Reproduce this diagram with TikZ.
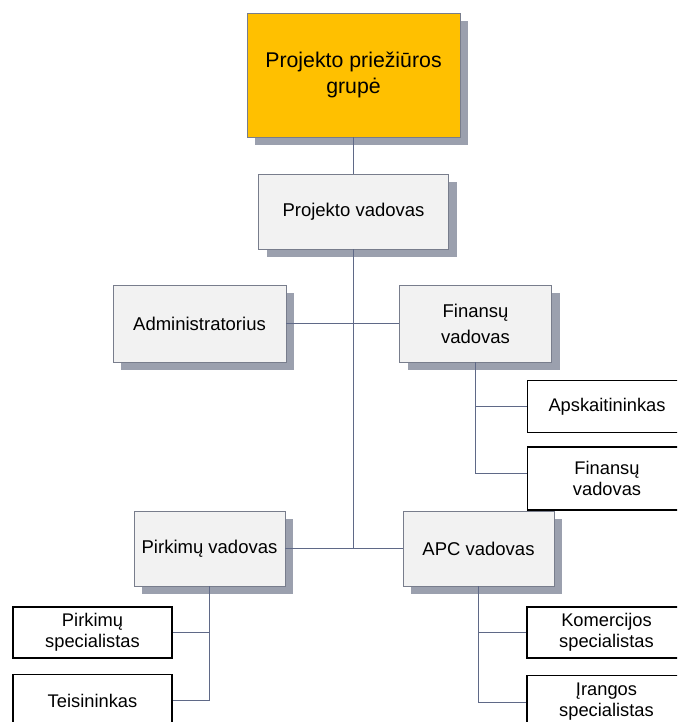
\documentclass[tikz,border=0pt]{standalone}
\usepackage{fontspec}
\setmainfont{Liberation Sans}
\usetikzlibrary{shadows}
\definecolor{orangec}{RGB}{255,192,0}
\definecolor{boxfill}{RGB}{242,242,242}
\definecolor{boxline}{RGB}{120,125,140}
\definecolor{shadowc}{RGB}{155,160,174}
\definecolor{linec}{RGB}{95,105,135}
\begin{document}
\begin{tikzpicture}[x=1pt,y=-1pt,
 mainbox/.style={draw=boxline, line width=0.9pt, fill=boxfill, align=center, inner sep=0pt,
   font=\fontsize{18.5}{26}\selectfont,
   drop shadow={shadow xshift=8pt, shadow yshift=-8pt, fill=shadowc, opacity=1}},
 topbox/.style={mainbox, fill=orangec, font=\fontsize{21.3}{26}\selectfont},
 childbox/.style={draw=black, line width=1.6pt, fill=white, align=center, inner sep=0pt,
   font=\fontsize{18.3}{21}\selectfont},
 conn/.style={draw=linec, line width=1pt}]
\useasboundingbox (0,0) rectangle (677,722);
\clip (0,0) rectangle (677,722);

\node[topbox, minimum width=213pt, minimum height=124pt] (top) at (353.5,75) {Projekto priežiūros\\grupė};
\node[mainbox, minimum width=190pt, minimum height=75pt] (pv) at (353.5,211.5) {Projekto vadovas};
\node[mainbox, minimum width=173pt, minimum height=77pt] (adm) at (199.5,323.5) {Administratorius};
\node[mainbox, minimum width=152pt, minimum height=77pt] (fin) at (475.5,323.5) {Finansų\\vadovas};
\node[childbox, minimum width=159pt, minimum height=52pt] (apsk) at (607,406.5) {Apskaitininkas};
\node[childbox, minimum width=159pt, minimum height=63pt] (fin2) at (607,478.5) {Finansų\\vadovas};
\node[mainbox, minimum width=151pt, minimum height=75pt] (pirk) at (209.5,548.5) {Pirkimų vadovas};
\node[mainbox, minimum width=151pt, minimum height=75pt] (apc) at (478.5,548.5) {APC vadovas};
\node[childbox, minimum width=159pt, minimum height=51pt] (ps) at (92.5,632.5) {Pirkimų\\specialistas};
\node[childbox, minimum width=159pt, minimum height=52pt] (teis) at (92.5,700.5) {Teisininkas};
\node[childbox, minimum width=159pt, minimum height=51pt] (kom) at (606.5,632.5) {Komercijos\\specialistas};
\node[childbox, minimum width=159pt, minimum height=52pt] (ir) at (606.5,701.5) {Įrangos\\specialistas};

\coordinate (jmain) at (pv.south |- pirk.east);
\draw[conn] (top.south) -- (pv.north);
\draw[conn] (pv.south) -- (jmain);
\draw[conn] (adm.east) -- (fin.west);
\draw[conn] (pirk.east) -- (apc.west);
\draw[conn] (fin.south) |- (apsk.west);
\draw[conn] (fin.south) |- ([yshift=5pt]fin2.west);
\draw[conn] (pirk.south) |- (ps.east);
\draw[conn] (pirk.south) |- (teis.east);
\draw[conn] (apc.south) |- (kom.west);
\draw[conn] (apc.south) |- ([yshift=-1pt]ir.west);
\end{tikzpicture}
\end{document}
